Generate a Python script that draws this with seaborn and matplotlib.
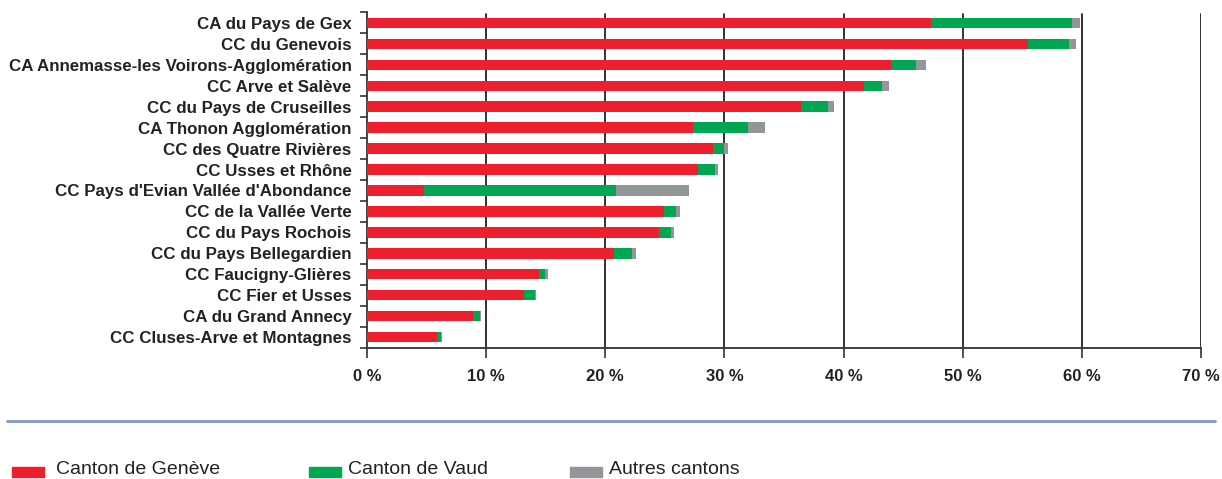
import matplotlib
matplotlib.use("Agg")
import matplotlib.pyplot as plt
import matplotlib.patches as mpatches
from matplotlib.ticker import FixedLocator
import seaborn as sns
import numpy as np
import pandas as pd

# data (share of cross-border workers, %)
epci = [
    "CA du Pays de Gex",
    "CC du Genevois",
    "CA Annemasse-les Voirons-Agglomération",
    "CC Arve et Salève",
    "CC du Pays de Cruseilles",
    "CA Thonon Agglomération",
    "CC des Quatre Rivières",
    "CC Usses et Rhône",
    "CC Pays d'Evian Vallée d'Abondance",
    "CC de la Vallée Verte",
    "CC du Pays Rochois",
    "CC du Pays Bellegardien",
    "CC Faucigny-Glières",
    "CC Fier et Usses",
    "CA du Grand Annecy",
    "CC Cluses-Arve et Montagnes",
]
geneve = [47.3, 55.5, 44.0, 41.7, 36.4, 27.4, 29.0, 27.8, 4.8, 24.9, 24.5, 20.7, 14.4, 13.2, 8.9, 5.9]
vaud = [11.9, 3.4, 2.1, 1.5, 2.3, 4.6, 1.0, 1.4, 16.1, 1.0, 1.0, 1.5, 0.5, 0.9, 0.6, 0.3]
autres = [0.6, 0.6, 0.8, 0.6, 0.5, 1.4, 0.3, 0.3, 6.1, 0.4, 0.3, 0.4, 0.3, 0.05, 0.1, 0.1]

series = ["Canton de Genève", "Canton de Vaud", "Autres cantons"]
colors = ["#ee1f2d", "#00a651", "#939598"]

df = pd.DataFrame({"epci": epci, "geneve": geneve, "vaud": vaud, "autres": autres})
df["c1"] = df["geneve"]
df["c2"] = df["c1"] + df["vaud"]
df["c3"] = df["c2"] + df["autres"]

sns.set_style("white")
plt.rcParams["font.family"] = ["Liberation Sans", "DejaVu Sans"]

fig = plt.figure(figsize=(12.22, 4.79), dpi=100)
ax = fig.add_axes([0.3003, 0.2745, 0.6826, 0.6995])

# stacked bars: draw cumulative totals from the back to the front
for col, c in zip(["c3", "c2", "c1"], colors[::-1]):
    sns.barplot(data=df, x=col, y="epci", color=c, width=0.5,
                saturation=1, ax=ax, linewidth=0, zorder=3)

ax.set_xlim(0, 70)
ax.set_ylim(len(epci) - 0.5, -0.5)
ax.set_xticks(np.arange(0, 71, 10))
ax.set_xticklabels([f"{v} %" for v in range(0, 71, 10)], fontweight="bold",
                   fontsize=12, color="#222222")
ax.tick_params(axis="x", length=7.5, width=1.2, color="#333333", pad=8, direction="out")
ax.xaxis.set_ticks_position("bottom")

ax.set_yticks(range(len(epci)))
ax.set_yticklabels(epci, fontweight="bold", fontsize=12.2, color="#222222")
ax.tick_params(axis="y", length=0, pad=11)
ax.yaxis.set_minor_locator(FixedLocator(np.arange(-0.5, len(epci), 1)))
ax.tick_params(axis="y", which="minor", length=5, width=1.2, color="#333333", direction="out")
ax.yaxis.set_ticks_position("left")

for v in range(10, 71, 10):
    ax.axvline(v, ymax=0.995, color="#222222", linewidth=1.3, zorder=1)

for s in ["top", "right"]:
    ax.spines[s].set_visible(False)
for s in ["left", "bottom"]:
    ax.spines[s].set_color("#333333")
    ax.spines[s].set_linewidth(1.3)

ax.set_xlabel("")
ax.set_ylabel("")

# separator line above the legend
fig.add_artist(plt.Line2D([0.006, 0.994], [0.121, 0.121], color="#8096c8", linewidth=2))

# legend, laid out item by item like the original
patch_x = [0.0102, 0.2529, 0.4664]
text_x = [0.0458, 0.2848, 0.4984]
for px, tx, s, c in zip(patch_x, text_x, series, colors):
    fig.add_artist(mpatches.Rectangle((px, 0.004), 0.026, 0.021, color=c,
                                      transform=fig.transFigure))
    fig.text(tx, 0.011, s, fontsize=14, color="#222222", va="baseline", ha="left")

fig.savefig("out.png", dpi=100)
